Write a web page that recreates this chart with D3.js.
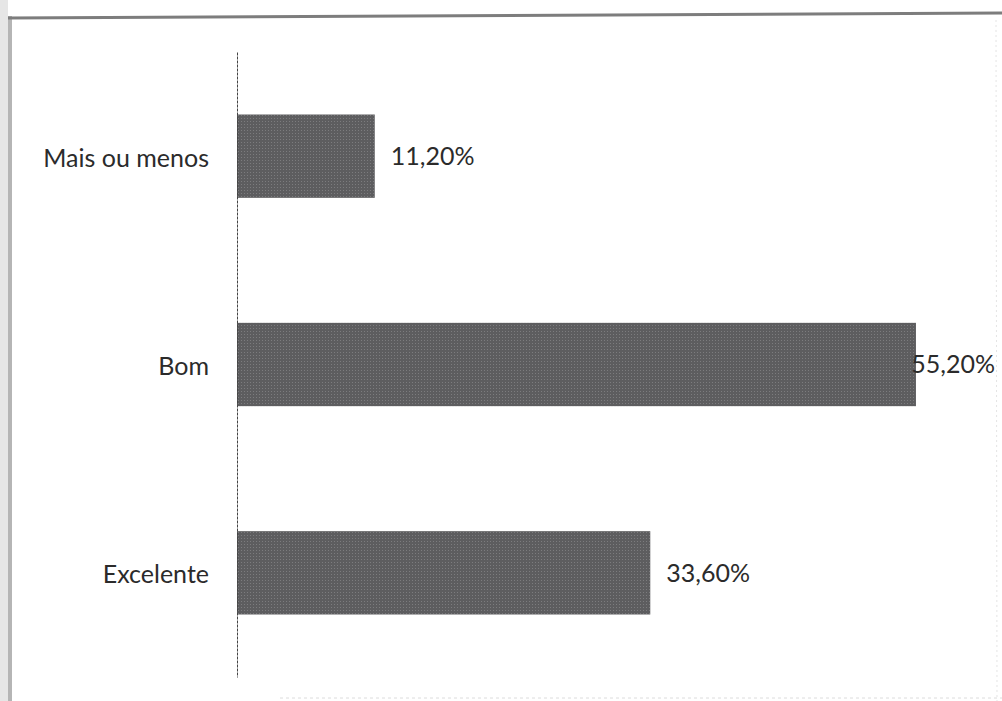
<!DOCTYPE html>
<html>
<head>
<meta charset="utf-8">
<script src="https://cdn.jsdelivr.net/npm/d3@7"></script>
<style>
  html, body { margin: 0; padding: 0; background: #ffffff; }
  svg { display: block; }
</style>
</head>
<body>
<svg id="chart" width="1002" height="701"></svg>
<script>
// Avaliação: share of answers per rating
const categories = ["Mais ou menos", "Bom", "Excelente"];
const values = [0.112, 0.552, 0.336];
const valueLabels = ["11,20%", "55,20%", "33,60%"];

const W = 1002, H = 701;
const svg = d3.select("#chart");

// frame of the page: grey strip on the left, rule across the top
svg.append("rect").attr("x", 0).attr("y", 0).attr("width", 8).attr("height", H).attr("fill", "#e6e6e6");
svg.append("rect").attr("x", 8).attr("y", 16).attr("width", 4).attr("height", H - 16).attr("fill", "#b5b5b5");
svg.append("line")
  .attr("x1", 8).attr("x2", W).attr("y1", 18).attr("y2", 13)
  .attr("stroke", "#7d7d7d").attr("stroke-width", 3);
svg.append("line")
  .attr("x1", 996).attr("x2", 997).attr("y1", 20).attr("y2", H)
  .attr("stroke", "#e4e4e4").attr("stroke-width", 1).attr("stroke-dasharray", "2,3");
svg.append("line")
  .attr("x1", 280).attr("x2", W).attr("y1", 698).attr("y2", 698)
  .attr("stroke", "#dcdcdc").attr("stroke-width", 1).attr("stroke-dasharray", "3,3");

const x = d3.scaleLinear().domain([0, 0.6]).range([237, 975]);
const y = d3.scaleBand().domain(categories).range([52, 677]).paddingInner(0.6).paddingOuter(0.3);

// halftone-like fill for the bars
const defs = svg.append("defs");
const pat = defs.append("pattern").attr("id", "screen")
  .attr("width", 3).attr("height", 3).attr("patternUnits", "userSpaceOnUse");
pat.append("rect").attr("width", 3).attr("height", 3).attr("fill", "#5d5d5f");
pat.append("rect").attr("x", 1).attr("y", 1).attr("width", 1).attr("height", 1).attr("fill", "#7c7c7e");

const font = "Lato, 'Open Sans', sans-serif";

svg.append("g").selectAll("rect.bar")
  .data(categories)
  .join("rect")
  .attr("class", "bar")
  .attr("x", x(0))
  .attr("y", d => y(d))
  .attr("width", (d, i) => x(values[i]) - x(0))
  .attr("height", y.bandwidth())
  .attr("fill", "url(#screen)");

// vertical category axis, labels only
const yAxis = svg.append("g")
  .attr("transform", `translate(${x(0)},0)`)
  .call(d3.axisLeft(y).tickSize(0).tickPadding(28));
yAxis.select(".domain").attr("stroke", "#444").attr("stroke-width", 1).attr("stroke-dasharray", "3,1");
yAxis.selectAll("text")
  .attr("font-family", font).attr("font-size", 25).attr("fill", "#2b2b2b")
  .attr("dy", "0.42em");

// value labels at the bar ends, kept inside the page
const rightLimit = 995;
svg.append("g").selectAll("text.val")
  .data(categories)
  .join("text")
  .attr("class", "val")
  .attr("font-family", font).attr("font-size", 25).attr("fill", "#2b2b2b")
  .attr("dy", "0.35em")
  .attr("y", d => y(d) + y.bandwidth() / 2)
  .text((d, i) => valueLabels[i])
  .attr("x", function (d, i) {
    const w = this.getComputedTextLength();
    return Math.min(x(values[i]) + 16, rightLimit - w);
  });
</script>
</body>
</html>
